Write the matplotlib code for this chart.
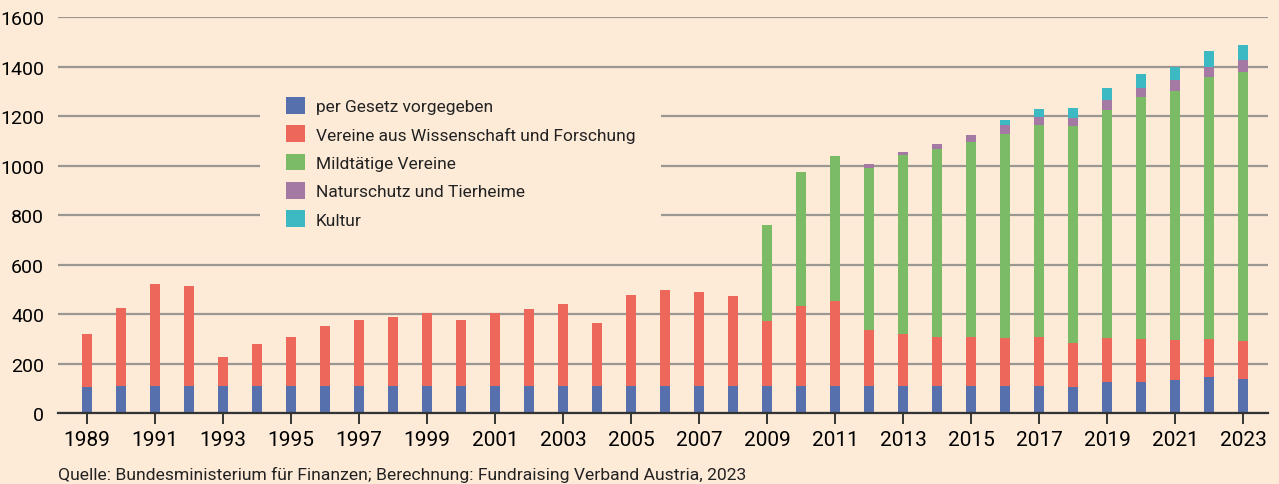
import numpy as np
from matplotlib import pyplot as plt
from matplotlib import font_manager

# Data
years = list(range(1989, 2024))
gesetz = [108, 111, 111, 111, 111, 111, 111, 111, 111, 111,
          111, 111, 111, 111, 111, 111, 111, 111, 111, 111,
          111, 111, 111, 111, 111, 111, 111, 111, 111, 107,
          127, 127, 135, 147, 139]
wissenschaft = [213, 315, 412, 404, 117, 170, 198, 242, 266, 278,
                294, 266, 294, 310, 331, 254, 367, 387, 379, 363,
                262, 323, 343, 226, 210, 198, 198, 193, 198, 178,
                177, 173, 161, 153, 153]
mildtaetig = [0] * 20 + [388, 541, 585, 654, 722, 758, 786, 824, 855, 875,
                         921, 977, 1005, 1058, 1086]
natur = [0] * 23 + [16, 12, 20, 29, 36, 32, 32, 40, 36, 45, 40, 48]
kultur = [0] * 27 + [20, 33, 41, 48, 57, 52, 65, 61]

series = [
    ('per Gesetz vorgegeben', gesetz, '#5570AD'),
    ('Vereine aus Wissenschaft und Forschung', wissenschaft, '#EE675B'),
    ('Mildtätige Vereine', mildtaetig, '#7BBB66'),
    ('Naturschutz und Tierheime', natur, '#A479A4'),
    ('Kultur', kultur, '#3DB9C3'),
]

bg = '#FDEBD8'
available = {f.name for f in font_manager.fontManager.ttflist}
font = 'Liberation Sans Narrow' if 'Liberation Sans Narrow' in available else 'Roboto'
plt.rcParams['font.family'] = [font, 'DejaVu Sans']
plt.rcParams['text.color'] = '#222222'

fig = plt.figure(figsize=(12.79, 4.85), dpi=100, facecolor=bg)
ax = fig.add_axes([0.0453, 0.1454, 0.9461, 0.8175], facecolor=bg)

bottom = np.zeros(len(years))
for label, vals, color in series:
    vals = np.array(vals, dtype=float)
    ax.bar(years, vals, bottom=bottom, width=0.32, color=color, label=label,
           zorder=3)
    bottom += vals

ax.set_xlim(1988.147, 2023.735)
ax.set_ylim(0, 1600)
ax.set_yticks(range(0, 1601, 200))
ax.yaxis.grid(True, color='#9A9690', linewidth=1.6, zorder=0)
ax.set_axisbelow(True)

ax.set_xticks(range(1989, 2024, 2))
ax.tick_params(axis='x', length=8, width=1.4, color='#333333',
               labelsize=15, pad=4)
ax.tick_params(axis='y', length=0, labelsize=14, pad=10)

for side in ['top', 'right', 'left']:
    ax.spines[side].set_visible(False)
ax.spines['bottom'].set_color('#333333')
ax.spines['bottom'].set_linewidth(1.6)
ax.spines['bottom'].set_zorder(4)

# legend box hides the gridlines behind it, like in the original
leg = ax.legend(loc='upper left', bbox_to_anchor=(260 / 1279, 1 - 72 / 485),
                bbox_transform=fig.transFigure, fontsize=12.5,
                frameon=True, facecolor=bg, edgecolor='none', framealpha=1,
                fancybox=False, handlelength=1.1, handleheight=1.1,
                handletextpad=0.6, labelspacing=0.64, borderpad=1.5,
                borderaxespad=0)
leg.set_zorder(5)

fig.text(58 / 1279, 1 - 475 / 485,
         'Quelle: Bundesministerium für Finanzen; Berechnung: Fundraising Verband Austria, 2023',
         fontsize=12.6, va='center', ha='left')

fig.savefig('out.png', dpi=100, facecolor=bg)
